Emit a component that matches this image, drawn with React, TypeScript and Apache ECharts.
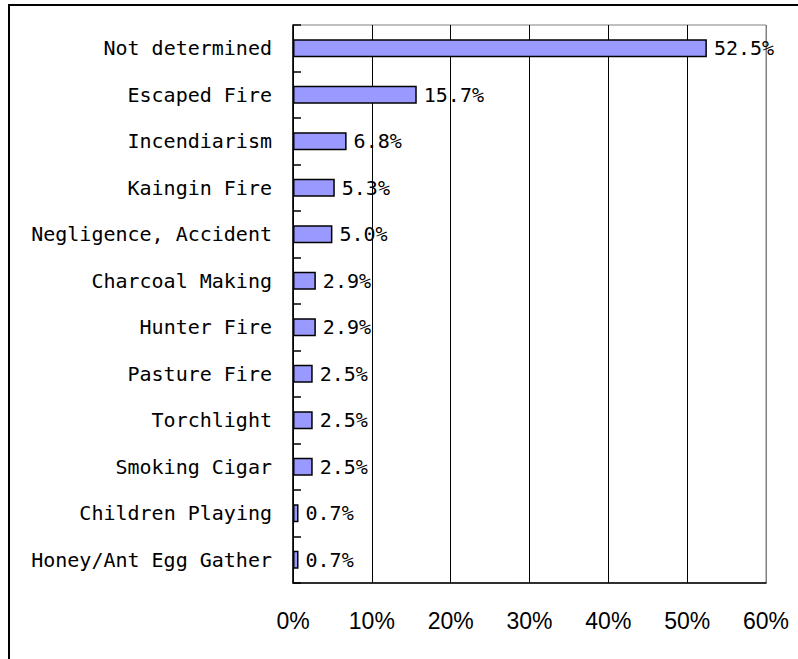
import React, { useEffect, useRef } from "react";
import * as echarts from "echarts";

const categories = [
  "Not determined",
  "Escaped Fire",
  "Incendiarism",
  "Kaingin Fire",
  "Negligence, Accident",
  "Charcoal Making",
  "Hunter Fire",
  "Pasture Fire",
  "Torchlight",
  "Smoking Cigar",
  "Children Playing",
  "Honey/Ant Egg Gather",
];
const values = [52.5, 15.7, 6.8, 5.3, 5.0, 2.9, 2.9, 2.5, 2.5, 2.5, 0.7, 0.7];
const valueLabels = ["52.5%", "15.7%", "6.8%", "5.3%", "5.0%", "2.9%", "2.9%", "2.5%", "2.5%", "2.5%", "0.7%", "0.7%"];
const axisMax = 60;
const axisInterval = 10;

export default function App() {
  const ref = useRef<HTMLDivElement>(null);
  useEffect(() => {
    if (!ref.current) return;
    const chart = echarts.init(ref.current, null, { renderer: "svg" });
    const mono = "'DejaVu Sans Mono', monospace";
    chart.setOption({
      animation: false,
      backgroundColor: "#fff",
      grid: {
        left: 293,
        right: 32,
        top: 25,
        bottom: 76,
        show: true,
        borderColor: "#808080",
        borderWidth: 1,
        backgroundColor: "transparent",
      },
      xAxis: {
        type: "value",
        min: 0,
        max: axisMax,
        interval: axisInterval,
        axisLine: { show: true, lineStyle: { color: "#000", width: 1.5 } },
        axisTick: { show: false },
        splitLine: {
          show: true,
          lineStyle: {
            color: ["#000", "#000", "#000", "#000", "#000", "#000", "#808080"],
            width: 1,
          },
        },
        axisLabel: {
          formatter: "{value}%",
          fontFamily: "'Liberation Sans Narrow', 'Liberation Sans', Arial, sans-serif",
          fontSize: 23,
          color: "#000",
          margin: 26,
        },
      },
      yAxis: {
        type: "category",
        data: categories,
        inverse: true,
        axisLine: { show: true, lineStyle: { color: "#000", width: 1.5 } },
        axisTick: { show: true, inside: true, length: 8, lineStyle: { color: "#000", width: 1.5 } },
        axisLabel: {
          fontFamily: mono,
          fontSize: 20,
          color: "#000",
          margin: 21,
        },
        splitLine: { show: false },
      },
      series: [
        {
          type: "bar",
          data: values,
          barWidth: 18,
          itemStyle: { color: "#9999FF", borderColor: "#000", borderWidth: 1.5 },
          label: {
            show: true,
            position: "right",
            distance: 7,
            formatter: (p: any) => valueLabels[p.dataIndex],
            fontFamily: mono,
            fontSize: 20,
            color: "#000",
          },
        },
      ],
      graphic: [
        {
          type: "rect",
          shape: { x: 9, y: 5, width: 1000, height: 1000 },
          style: { fill: "none", stroke: "#000", lineWidth: 2 },
          silent: true,
        },
      ],
    });
    return () => chart.dispose();
  }, []);
  return (
    <div
      ref={ref}
      style={{ position: "fixed", left: 0, top: 0, width: 798, height: 659 }}
    />
  );
}
